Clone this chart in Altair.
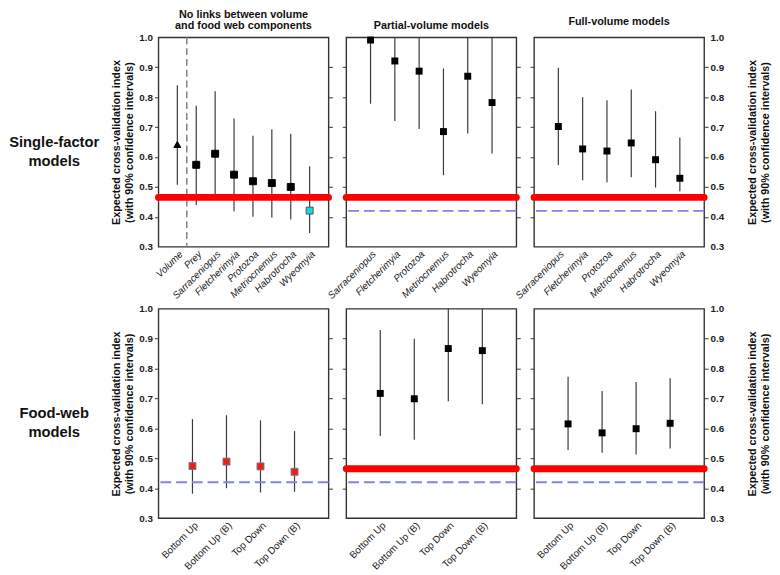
import json
import altair as alt
import pandas as pd

# ---------------- data ----------------
NO_LINK_NAMES = ["Volume", "Prey", "Sarraceniopus", "Fletcherimyia", "Protozoa",
                 "Metriocnemus", "Habrotrocha", "Wyeomyia"]
NO_LINK_EST = [0.642, 0.574, 0.611, 0.541, 0.519, 0.513, 0.500, 0.421]
NO_LINK_LO = [0.507, 0.440, 0.468, 0.419, 0.400, 0.398, 0.391, 0.346]
NO_LINK_HI = [0.840, 0.771, 0.820, 0.729, 0.671, 0.693, 0.678, 0.569]

SPECIES = ["Sarraceniopus", "Fletcherimyia", "Protozoa", "Metriocnemus",
           "Habrotrocha", "Wyeomyia"]
PARTIAL_EST = [0.991, 0.921, 0.887, 0.685, 0.870, 0.782]
PARTIAL_LO = [0.778, 0.720, 0.694, 0.539, 0.679, 0.612]
PARTIAL_HI = [1.000, 1.000, 1.000, 0.896, 1.000, 1.000]

FULL_EST = [0.702, 0.627, 0.620, 0.647, 0.591, 0.529]
FULL_LO = [0.573, 0.522, 0.516, 0.532, 0.498, 0.486]
FULL_HI = [0.898, 0.800, 0.790, 0.826, 0.753, 0.665]

FOODWEB = ["Bottom Up", "Bottom Up (B)", "Top Down", "Top Down (B)"]
FW_NOLINK_EST = [0.474, 0.489, 0.473, 0.455]
FW_NOLINK_LO = [0.382, 0.400, 0.386, 0.388]
FW_NOLINK_HI = [0.631, 0.644, 0.627, 0.591]
FW_PARTIAL_EST = [0.717, 0.699, 0.867, 0.860]
FW_PARTIAL_LO = [0.575, 0.562, 0.691, 0.681]
FW_PARTIAL_HI = [0.929, 0.900, 1.000, 1.000]
FW_FULL_EST = [0.615, 0.585, 0.599, 0.617]
FW_FULL_LO = [0.528, 0.519, 0.513, 0.533]
FW_FULL_HI = [0.773, 0.725, 0.755, 0.768]

NULL_LEVEL = 0.465      # thick red reference line
BASE_LEVEL = 0.420      # dashed blue reference line
DIVIDER_AT = [0.5]      # between "Volume" and "Prey"
TRIANGLE_NAME = "Volume"
CYAN_NAME = "Wyeomyia"

COL_TITLES = [["No links between volume", "and food web components"],
              "Partial-volume models", "Full-volume models"]
ROW_TITLES = [["Single-factor", "models"], ["Food-web", "models"]]
Y_TITLE = ["Expected cross-validation index", "(with 90% confidence intervals)"]
Y_DOMAIN = [0.3, 1.0]
Y_TICKS = [0.3, 0.4, 0.5, 0.6, 0.7, 0.8, 0.9, 1.0]

# ---------------- styling ----------------
FONT = "Liberation Sans"
W, H = 173, 213
INNER_TICKS = {"condition": {"test": "datum.value > 0.35 && datum.value < 0.95", "value": 1},
               "value": 0}


def y_axis(orient, full):
    kw = dict(orient=orient, values=Y_TICKS, tickSize=4, tickWidth=1, tickColor="#333",
              tickOpacity=INNER_TICKS, domain=False, grid=False)
    if full:
        kw.update(format=".1f", labelFontSize=10, labelFontWeight="bold", labelFont=FONT,
                  labelColor="#222", labelPadding=2, title=Y_TITLE, titleFont=FONT,
                  titleFontSize=11, titleFontWeight="bold", titleColor="#111",
                  titleAngle=270, titleLineHeight=14,
                  titleBaseline="bottom" if orient == "left" else "top",
                  titlePadding=4 if orient == "left" else 9)
    else:
        kw.update(labels=False, title="")
    return alt.Axis(**kw)


def panel(names, est, lo, hi, *, italic, left_full, right_full, title, title_offset,
          red=True, blue=True, divider=False, row_title=None, special=False,
          red_points=False):
    n = len(names)
    df = pd.DataFrame({"idx": list(range(n)), "name": names, "est": est, "lo": lo, "hi": hi})
    xs = alt.Scale(domain=[-1, n], nice=False, zero=False)
    ys = alt.Scale(domain=Y_DOMAIN, nice=False, zero=False)
    x_axis = alt.Axis(values=list(range(n)), labelExpr=json.dumps(names) + "[datum.value]",
                      labelAngle=315, labelFontSize=10, labelFont=FONT,
                      labelFontStyle="italic" if italic else "normal", labelColor="#222",
                      labelPadding=2, labelOverlap=False, labelFlush=False, labelBound=False,
                      ticks=False, domain=False, grid=False, title="")
    x = alt.X("idx:Q", scale=xs, axis=x_axis)
    base = alt.Chart(df)
    layers = [base.mark_rule(color="#3a3a3a", strokeWidth=1.2).encode(
        x=x, y=alt.Y("lo:Q", scale=ys, axis=y_axis("left", left_full)), y2="hi:Q")]
    if divider:
        layers.append(alt.Chart(pd.DataFrame({"d": DIVIDER_AT})).mark_rule(
            color="#808080", strokeWidth=1.5, strokeDash=[7, 4]).encode(
            x=alt.X("d:Q", scale=xs, axis=x_axis)))
    if blue:
        layers.append(alt.Chart(pd.DataFrame({"v": [BASE_LEVEL]})).mark_rule(
            color="#8080ff", strokeWidth=2, strokeDash=[11, 5]).encode(
            y=alt.Y("v:Q", scale=ys, axis=None)))
    if red:
        layers.append(alt.Chart(pd.DataFrame({"v": [NULL_LEVEL]})).mark_rule(
            color="#ff0000", strokeWidth=7, strokeCap="round").encode(
            y=alt.Y("v:Q", scale=ys, axis=None)))
    yp = alt.Y("est:Q", scale=ys, axis=y_axis("right", right_full))
    if special:
        pts = base.mark_point(filled=True, size=50, strokeWidth=1, opacity=1).encode(
            x=x, y=yp,
            shape=alt.condition(alt.datum.name == TRIANGLE_NAME, alt.value("triangle-up"),
                                alt.value("square")),
            fill=alt.condition(alt.datum.name == CYAN_NAME, alt.value("#14d9d9"),
                               alt.value("black")),
            stroke=alt.condition(alt.datum.name == CYAN_NAME, alt.value("#555"),
                                 alt.value("black")))
    elif red_points:
        pts = base.mark_point(shape="square", filled=True, size=50, fill="#ee1c1c",
                              stroke="#7a7a7a", strokeWidth=1, opacity=1).encode(x=x, y=yp)
    else:
        pts = base.mark_point(shape="square", filled=True, size=50, color="black",
                              opacity=1).encode(x=x, y=yp)
    layers.append(pts)
    if row_title is not None:
        layers.append(alt.Chart(pd.DataFrame({"k": [0]})).mark_text(
            text=row_title, font=FONT, fontSize=15, fontWeight="bold", align="center",
            baseline="middle", lineHeight=19, color="#111").encode(
            x=alt.value(-106), y=alt.value(H / 2)))
    props = dict(width=W, height=H)
    if title is not None:
        props["title"] = alt.TitleParams(text=title, font=FONT, fontSize=11,
                                         fontWeight="bold", lineHeight=12,
                                         offset=title_offset, anchor="middle",
                                         color="#111")
    return alt.layer(*layers).resolve_axis(y="independent").properties(**props)


p11 = panel(NO_LINK_NAMES, NO_LINK_EST, NO_LINK_LO, NO_LINK_HI, italic=True,
            left_full=True, right_full=False, title=COL_TITLES[0], title_offset=1,
            blue=False, divider=True, row_title=ROW_TITLES[0], special=True)
p12 = panel(SPECIES, PARTIAL_EST, PARTIAL_LO, PARTIAL_HI, italic=True,
            left_full=False, right_full=False, title=COL_TITLES[1], title_offset=6)
p13 = panel(SPECIES, FULL_EST, FULL_LO, FULL_HI, italic=True,
            left_full=False, right_full=True, title=COL_TITLES[2], title_offset=6)
p21 = panel(FOODWEB, FW_NOLINK_EST, FW_NOLINK_LO, FW_NOLINK_HI, italic=False,
            left_full=True, right_full=False, title=None, title_offset=0,
            red=False, row_title=ROW_TITLES[1], red_points=True)
p22 = panel(FOODWEB, FW_PARTIAL_EST, FW_PARTIAL_LO, FW_PARTIAL_HI, italic=False,
            left_full=False, right_full=False, title=None, title_offset=0)
p23 = panel(FOODWEB, FW_FULL_EST, FW_FULL_LO, FW_FULL_HI, italic=False,
            left_full=False, right_full=True, title=None, title_offset=0)

chart = alt.concat(p11, p12, p13, p21, p22, p23, columns=3,
                   spacing={"row": 63, "column": 18}, bounds="flush").properties(
    padding={"left": 0, "top": -5, "right": 0, "bottom": 0},
    background="white",
).configure_view(stroke="#333", strokeWidth=1.4)

chart.save("out.html", embed_options={"renderer": "svg", "actions": False})
